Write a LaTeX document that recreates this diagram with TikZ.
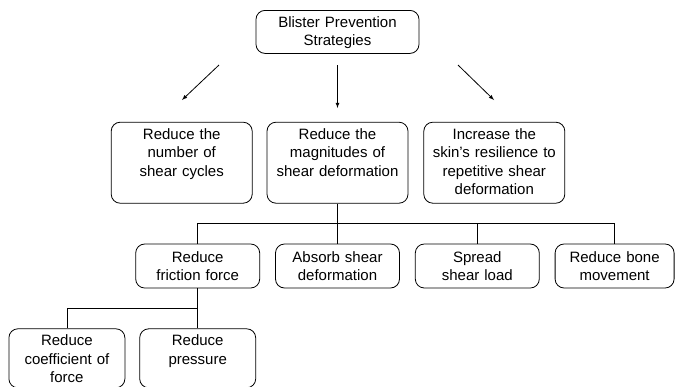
\documentclass[tikz,border=0pt]{standalone}
\usepackage{fontspec}
\setmainfont{Liberation Sans}
\usepackage{tikz}
\usetikzlibrary{arrows,positioning,calc}

\begin{document}
\begin{tikzpicture}[x=1pt,y=-1pt,node distance=14pt,line width=0.8pt,
  box/.style={draw,rounded corners=9pt,align=center,inner xsep=3pt,inner ysep=4pt,
    font=\fontsize{15}{18.5}\selectfont},
  toprow/.style={box,text width=157pt,text height=13pt,text depth=22pt},
  tworow/.style={box,text width=135pt,text height=13pt,text depth=60pt},
  threerow/.style={box,text width=118pt,text height=14pt,text depth=22pt},
  fourrow/.style={box,text width=110pt,text height=13pt,text depth=38pt}]
\useasboundingbox (0,0) rectangle (675,386);
\node[toprow,anchor=north] (top) at (337.5,10) {Blister Prevention\\Strategies};
\node[tworow] (mid) [below=68pt of top] {Reduce the\\magnitudes of\\shear deformation};
\node[tworow] (cyc) [left=of mid] {Reduce the\\number of\\shear cycles};
\node[tworow] (res) [right=15pt of mid] {Increase the\\skin's resilience to\\repetitive shear\\deformation};
\node[threerow] (abs) [below=40pt of mid] {Absorb shear\\deformation};
\node[threerow] (fri) [left=15pt of abs] {Reduce\\friction force};
\node[threerow] (spr) [right=15pt of abs] {Spread\\shear load};
\node[threerow,text width=113pt] (bon) [right=15pt of spr] {Reduce bone\\movement};
\node[fourrow] (prs) [below=40pt of fri] {Reduce\\pressure};
\node[fourrow] (coe) [left=of prs] {Reduce\\coefficient of\\force};
\coordinate (a1) at (219,65);
\coordinate (b1) at (182,100);
\coordinate (a2) at (337.5,65);
\coordinate (b2) at (337.5,108);
\coordinate (a3) at (458,65);
\coordinate (b3) at (494,100);
\coordinate (bus) at ($(mid.south)!0.5!(abs.north)$);
\coordinate (bus2) at ($(fri.south)!0.5!(prs.north)$);
\draw[-latex] (a1) -- (b1);
\draw[-latex] (a2) -- (b2);
\draw[-latex] (a3) -- (b3);
\draw (mid.south) -- (abs.north);
\draw (fri.north) -- (fri.north |- bus) -- (bon.north |- bus) -- (bon.north);
\draw (spr.north) -- (spr.north |- bus);
\draw (fri.south) -- (prs.north);
\draw (coe.north) -- (coe.north |- bus2) -- (bus2);
\end{tikzpicture}
\end{document}
